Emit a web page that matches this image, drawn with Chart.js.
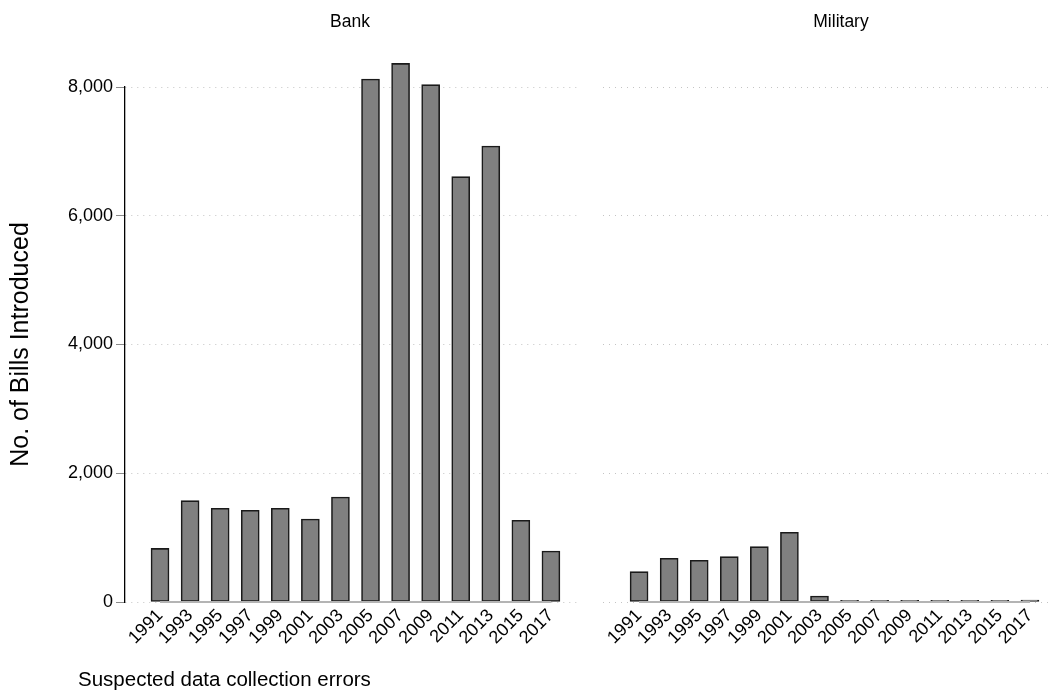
<!DOCTYPE html>
<html>
<head>
<meta charset="utf-8">
<script src="https://cdn.jsdelivr.net/npm/chart.js@4.4.1/dist/chart.umd.min.js"></script>
<style>
  html, body { margin: 0; padding: 0; background: #fff; }
  #wrap { position: relative; width: 1050px; height: 694px; overflow: hidden;
          font-family: "Liberation Sans", Arial, sans-serif; color: #000; }
  #wrap canvas { position: absolute; left: 0; top: 0; }
  .lbl { position: absolute; line-height: 1; white-space: nowrap; }
</style>
</head>
<body>
<div id="wrap">
  <canvas id="bank" width="1050" height="694"></canvas>
  <canvas id="military" width="1050" height="694"></canvas>
  <div class="lbl" style="left:0; width:700px; text-align:center; top:13px; font-size:17.5px;">Bank</div>
  <div class="lbl" style="left:682px; width:318px; text-align:center; top:13px; font-size:17.5px;">Military</div>
  <div class="lbl" style="left:78px; top:669px; font-size:20.5px;">Suspected data collection errors</div>
</div>
<script>
// Congressional sessions (first year of each)
const years = [1991, 1993, 1995, 1997, 1999, 2001, 2003, 2005, 2007, 2009, 2011, 2013, 2015, 2017];

// Number of bills introduced per session
const bankBills     = [833, 1574, 1455, 1424, 1455, 1289, 1631, 8124, 8367, 8036, 6607, 7083, 1269, 792];
const militaryBills = [471, 679, 648, 704, 859, 1083, 93, 25, 25, 25, 25, 25, 25, 30];

// Value axis ticks
const yTicks = [0, 2000, 4000, 6000, 8000];

const FONT = '"Liberation Sans", Arial, sans-serif';

// Solid grey baseline running from the first to the last bar centre
const baselinePlugin = {
  id: 'baseline',
  afterDatasetsDraw(chart) {
    const xs = chart.scales.x, ys = chart.scales.y, ctx = chart.ctx;
    const y0 = ys.getPixelForValue(0);
    ctx.save();
    ctx.strokeStyle = '#b4b4b4';
    ctx.lineWidth = 2;
    ctx.beginPath();
    ctx.moveTo(xs.getPixelForValue(years[0]), y0);
    ctx.lineTo(xs.getPixelForValue(years[years.length - 1]), y0);
    ctx.stroke();
    ctx.restore();
  }
};

function makePanel(id, values, cfg) {
  const yAxis = {
    type: 'linear',
    min: 0,
    max: 8000,
    afterBuildTicks: s => { s.ticks = yTicks.map(v => ({ value: v })); },
    afterFit: s => { s.width = cfg.yWidth; },
    border: { display: cfg.showYAxis, color: '#000', width: 1.3, dash: [1, 5] },
    grid: {
      color: '#c4c4c4',
      lineWidth: 1,
      drawTicks: cfg.showYAxis,
      tickLength: 9,
      tickColor: '#8a8a8a',
      tickBorderDash: []
    },
    ticks: {
      display: cfg.showYAxis,
      color: '#000',
      padding: 3,
      font: { family: FONT, size: 18 },
      callback: v => Number(v).toLocaleString('en-US')
    },
    title: {
      display: cfg.showYAxis,
      text: 'No. of Bills Introduced',
      color: '#000',
      font: { family: FONT, size: 25 },
      padding: { top: 6, bottom: 0 }
    }
  };

  return new Chart(document.getElementById(id), {
    type: 'bar',
    data: {
      datasets: [{
        data: years.map((yr, i) => ({ x: yr, y: values[i] })),
        backgroundColor: '#808080',
        borderColor: '#1a1a1a',
        borderWidth: 1.6,
        borderSkipped: false,
        barThickness: 18,
        clip: false
      }]
    },
    options: {
      responsive: false,
      animation: false,
      events: [],
      layout: { padding: cfg.padding },
      plugins: { legend: { display: false }, tooltip: { enabled: false }, title: { display: false } },
      scales: {
        x: {
          type: 'linear',
          offset: false,
          min: cfg.xMin,
          max: cfg.xMax,
          afterBuildTicks: s => { s.ticks = years.map(v => ({ value: v })); },
          afterFit: s => { s.height = 92; },
          border: { display: false },
          grid: { display: false, drawTicks: false, offset: false },
          ticks: {
            autoSkip: false,
            minRotation: 45,
            maxRotation: 45,
            padding: 3,
            color: '#000',
            font: { family: FONT, size: 18 },
            callback: v => String(v)
          }
        },
        y: yAxis
      }
    },
    plugins: [baselinePlugin]
  });
}

makePanel('bank', bankBills, {
  showYAxis: true,
  yWidth: 125,
  padding: { left: 0, right: 469, top: 87, bottom: 0 },
  xMin: 1988.67,
  xMax: 2019.0
});

makePanel('military', militaryBills, {
  showYAxis: false,
  yWidth: 0,
  padding: { left: 603, right: 2, top: 87, bottom: 0 },
  xMin: 1988.6,
  xMax: 2018.2
});
</script>
</body>
</html>
